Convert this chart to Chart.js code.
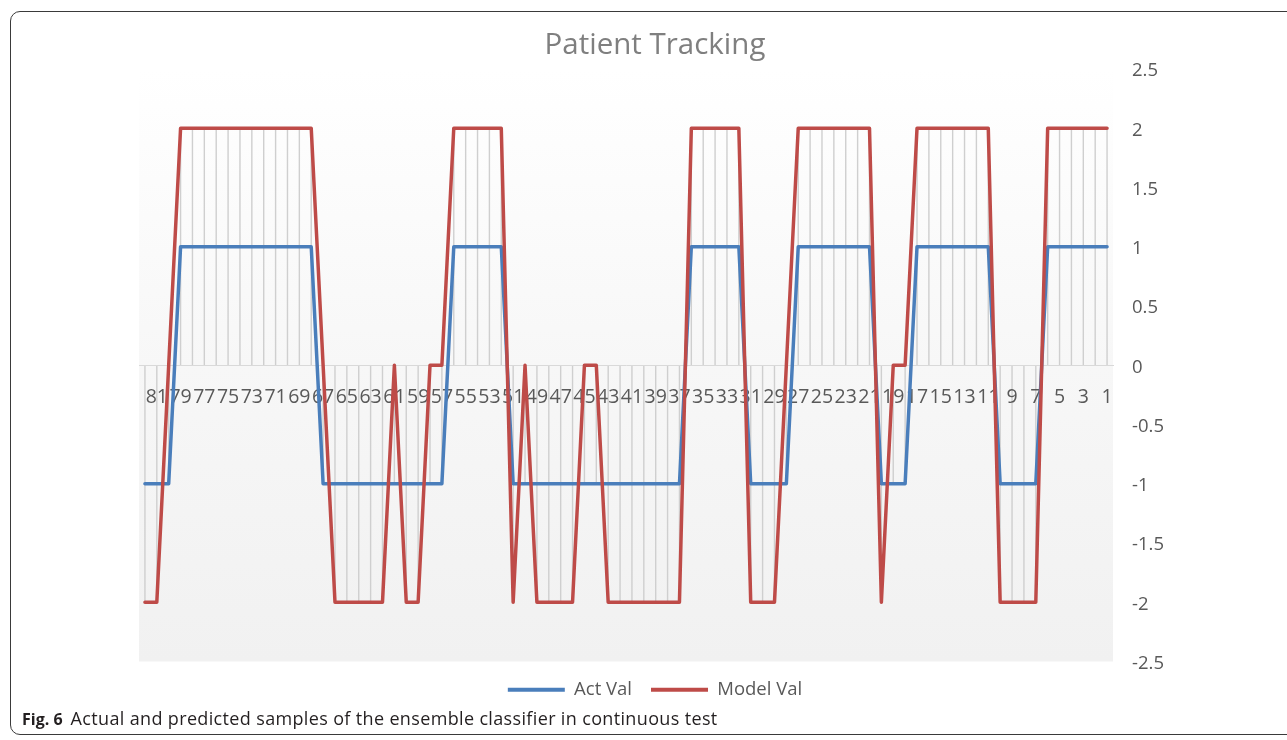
<!DOCTYPE html>
<html>
<head>
<meta charset="utf-8">
<title>Patient Tracking</title>
<script src="https://cdn.jsdelivr.net/npm/chart.js@4.4.1/dist/chart.umd.min.js"></script>
<style>
  html, body { margin: 0; padding: 0; background: #ffffff; }
  body { width: 1287px; height: 740px; position: relative; overflow: hidden; }
  .frame {
    position: absolute; left: 10px; top: 11px; width: 1320px; height: 724px;
    border: 1px solid #3a3a3a; border-radius: 10px; box-sizing: border-box;
  }
  #chart { position: absolute; left: 0; top: 0; }
  .caption {
    position: absolute; left: 22px; top: 707px;
    font-family: "Open Sans", sans-serif; font-size: 18px; letter-spacing: 0.35px;
    line-height: 22px; color: #231f20; white-space: nowrap;
  }
  .caption b { font-size: 16px; letter-spacing: 0; font-weight: 700; margin-right: 8px; }
</style>
</head>
<body>
<div class="frame"></div>
<canvas id="chart" width="1287" height="740"></canvas>
<div class="caption"><b>Fig. 6</b>Actual and predicted samples of the ensemble classifier in continuous test</div>
<script>
// Sample numbers (shown right to left on the category axis)
const sampleIds = [
  1, 2, 3, 4, 5, 6, 7, 8, 9, 10, 11, 12, 13, 14, 15, 16, 17, 18, 19, 20,
  21, 22, 23, 24, 25, 26, 27, 28, 29, 30, 31, 32, 33, 34, 35, 36, 37, 38, 39, 40,
  41, 42, 43, 44, 45, 46, 47, 48, 49, 50, 51, 52, 53, 54, 55, 56, 57, 58, 59, 60,
  61, 62, 63, 64, 65, 66, 67, 68, 69, 70, 71, 72, 73, 74, 75, 76, 77, 78, 79, 80,
  81, 82
];

// Category labels that are printed on the axis
const tickLabels = [1, 3, 5, 7, 9, 11, 13, 15, 17, 19, 21, 23, 25, 27, 29, 31, 33, 35, 37, 39,
  41, 43, 45, 47, 49, 51, 53, 55, 57, 59, 61, 63, 65, 67, 69, 71, 73, 75, 77, 79, 81];

// Actual class of each sample
const actVal = [
  1, 1, 1, 1, 1, 1,
  -1, -1, -1, -1,
  1, 1, 1, 1, 1, 1, 1,
  -1, -1, -1,
  1, 1, 1, 1, 1, 1, 1,
  -1, -1, -1, -1,
  1, 1, 1, 1, 1,
  -1, -1, -1, -1, -1, -1, -1, -1, -1, -1, -1, -1, -1, -1, -1,
  1, 1, 1, 1, 1,
  -1, -1, -1, -1, -1, -1, -1, -1, -1, -1, -1,
  1, 1, 1, 1, 1, 1, 1, 1, 1, 1, 1, 1,
  -1, -1, -1
];

// Ensemble model output for each sample
const modelVal = [
  2, 2, 2, 2, 2, 2,
  -2, -2, -2, -2,
  2, 2, 2, 2, 2, 2, 2,
  0, 0,
  -2,
  2, 2, 2, 2, 2, 2, 2,
  0,
  -2, -2, -2,
  2, 2, 2, 2, 2,
  -2, -2, -2, -2, -2, -2, -2,
  0, 0,
  -2, -2, -2, -2,
  0,
  -2,
  2, 2, 2, 2, 2,
  0, 0,
  -2, -2,
  0,
  -2, -2, -2, -2, -2,
  0,
  2, 2, 2, 2, 2, 2, 2, 2, 2, 2, 2, 2,
  0,
  -2, -2
];

const ACT_COLOR = '#4a7ebb';
const MODEL_COLOR = '#be4b48';
const TEXT_COLOR = '#595959';
const FONT = 'Open Sans';

// Plot-area shading plus vertical drop lines from each sample to the zero axis
const plotBackdrop = {
  id: 'plotBackdrop',
  beforeDraw(chart) {
    const { ctx, chartArea: a, scales: { x, y } } = chart;
    ctx.save();
    const g = ctx.createLinearGradient(0, a.top, 0, a.bottom);
    g.addColorStop(0, '#ffffff');
    g.addColorStop(0.5, '#f7f7f7');
    g.addColorStop(1, '#f1f1f1');
    ctx.fillStyle = g;
    ctx.fillRect(a.left, a.top, a.right - a.left, a.bottom - a.top);

    ctx.strokeStyle = '#cfcfcf';
    ctx.lineWidth = 1.4;
    ctx.beginPath();
    sampleIds.forEach((id, i) => {
      const hi = Math.max(actVal[i], modelVal[i], 0);
      const lo = Math.min(actVal[i], modelVal[i], 0);
      if (hi === lo) return;
      const px = x.getPixelForValue(i);
      ctx.moveTo(px, y.getPixelForValue(hi));
      ctx.lineTo(px, y.getPixelForValue(lo));
    });
    ctx.stroke();
    ctx.restore();
  }
};

new Chart(document.getElementById('chart'), {
  type: 'line',
  data: {
    labels: sampleIds.map(String),
    datasets: [
      {
        label: 'Act Val', data: actVal, order: 1,
        borderColor: ACT_COLOR, backgroundColor: ACT_COLOR, borderWidth: 3.5,
        pointRadius: 0, tension: 0, borderJoinStyle: 'round', borderCapStyle: 'round'
      },
      {
        label: 'Model Val', data: modelVal, order: 0,
        borderColor: MODEL_COLOR, backgroundColor: MODEL_COLOR, borderWidth: 3.5,
        pointRadius: 0, tension: 0, borderJoinStyle: 'round', borderCapStyle: 'round'
      }
    ]
  },
  options: {
    responsive: false,
    animation: false,
    devicePixelRatio: 1,
    layout: { padding: { left: 139, right: 116, top: 0, bottom: 31 } },
    scales: {
      x: {
        type: 'category',
        reverse: true,
        offset: true,
        position: { y: 0 },
        grid: { display: false, drawTicks: false },
        border: { display: true, color: '#d9d9d9', width: 1 },
        ticks: {
          autoSkip: false, maxRotation: 0, minRotation: 0, padding: 20,
          color: TEXT_COLOR, font: { family: FONT, size: 19.5 },
          callback(value, index) {
            const id = sampleIds[index];
            return tickLabels.includes(id) ? String(id) : '';
          }
        }
      },
      y: {
        position: 'right',
        min: -2.5, max: 2.5,
        grid: { display: false, drawTicks: false },
        border: { display: false },
        ticks: {
          stepSize: 0.5, padding: 19, labelOffset: 2,
          color: TEXT_COLOR, font: { family: FONT, size: 18.5 },
          callback: (value) => String(Math.round(value * 10) / 10)
        },
        afterFit(scale) { scale.width = 58; }
      }
    },
    plugins: {
      title: {
        display: true,
        text: 'Patient Tracking',
        color: '#7f7f7f',
        font: { family: FONT, size: 29.5, weight: 'normal' },
        padding: { top: 28.3, bottom: 5.3 }
      },
      legend: {
        position: 'bottom',
        labels: {
          color: TEXT_COLOR,
          font: { family: FONT, size: 18.5 },
          boxWidth: 57, boxHeight: 4, padding: 19,
          sort: (a, b) => a.datasetIndex - b.datasetIndex,
          generateLabels(chart) {
            return Chart.defaults.plugins.legend.labels.generateLabels(chart)
              .map(item => Object.assign(item, { lineWidth: 0, fillStyle: item.strokeStyle }));
          }
        }
      },
      tooltip: { enabled: false }
    }
  },
  plugins: [plotBackdrop]
});
</script>
</body>
</html>
